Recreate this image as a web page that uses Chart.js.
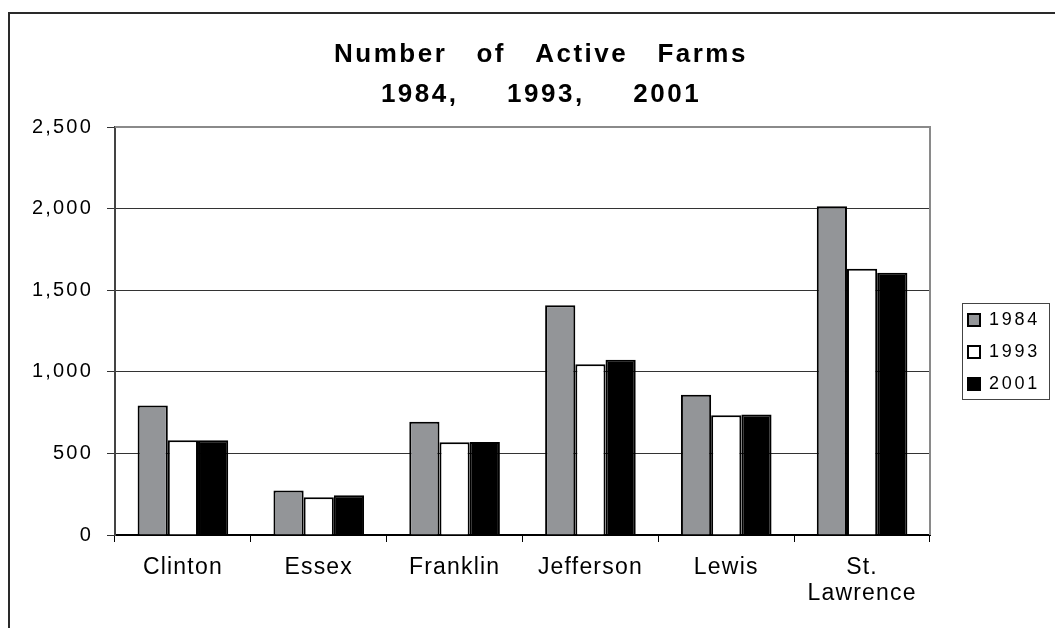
<!DOCTYPE html>
<html><head><meta charset="utf-8">
<script src="https://cdn.jsdelivr.net/npm/chart.js@4"></script>
<style>html,body{margin:0;padding:0;background:#fff;overflow:hidden}#wrap{position:relative;width:1055px;height:628px}</style>
</head><body><div id="wrap"><canvas id="c" width="1055" height="628"></canvas></div>
<script>
const categories = ['Clinton', 'Essex', 'Franklin', 'Jefferson', 'Lewis', ['St.', 'Lawrence']];
const seriesNames = ['1984', '1993', '2001'];
const farms1984 = [794, 273, 694, 1408, 859, 2015];
const farms1993 = [580, 232, 568, 1046, 734, 1632];
const farms2001 = [581, 244, 570, 1074, 739, 1607];
const yTicks = [0, 500, 1000, 1500, 2000, 2500];
const titleLines = ['Number   of   Active   Farms', '1984,     1993,     2001'];

const FONT = '"Liberation Sans", Arial, Helvetica, sans-serif';

function spaced(obj, method, sp) {
  const orig = obj[method];
  obj[method] = function (...a) {
    const ctx = this.ctx;
    const prev = ctx.letterSpacing;
    ctx.letterSpacing = sp;
    try { return orig.apply(this, a); } finally { ctx.letterSpacing = prev; }
  };
}

const framePlugin = {
  id: 'frame',
  afterLayout(chart) {
    const lg = chart.legend;
    lg.left = 954; lg.top = 297; lg.right = 1055; lg.bottom = 520;
    lg.width = lg.right - lg.left; lg.height = lg.bottom - lg.top;
    const t = chart.titleBlock;
    t.left = 141; t.right = 941; t.width = 800;
    if (!chart.$spaced) {
      chart.$spaced = true;
      spaced(t, 'draw', '2.5px');
      spaced(lg, 'draw', '2.7px');
      spaced(chart.scales.x, 'drawLabels', '1.2px');
      spaced(chart.scales.y, 'drawLabels', '2.2px');
    }
  },
  beforeDraw(chart) {
    const ctx = chart.ctx;
    ctx.save();
    ctx.strokeStyle = '#2a2a2a';
    ctx.lineWidth = 2;
    ctx.beginPath();
    ctx.moveTo(9, 640); ctx.lineTo(9, 13); ctx.lineTo(1060, 13);
    ctx.stroke();
    ctx.restore();
  },
  afterDraw(chart) {
    const ctx = chart.ctx;
    const a = chart.chartArea;
    ctx.save();
    ctx.strokeStyle = '#8a8a8a';
    ctx.lineWidth = 2;
    ctx.beginPath();
    ctx.moveTo(a.left, a.top); ctx.lineTo(a.right, a.top); ctx.lineTo(a.right, a.bottom);
    ctx.stroke();
    const lg = chart.legend;
    ctx.strokeStyle = '#444';
    ctx.lineWidth = 1;
    ctx.strokeRect(lg.left + 8.5, lg.top + 6.5, 87, 96);
    ctx.restore();
  }
};

const colors = ['#939598', '#ffffff', '#000000'];
const seriesData = [farms1984, farms1993, farms2001];

new Chart(document.getElementById('c'), {
  type: 'bar',
  data: {
    labels: categories,
    datasets: seriesNames.map((n, i) => ({
      label: n,
      data: seriesData[i],
      backgroundColor: colors[i],
      borderColor: '#000',
      borderWidth: 2,
      barPercentage: 1,
      categoryPercentage: 0.667
    }))
  },
  options: {
    responsive: false,
    animation: false,
    devicePixelRatio: 1,
    layout: { padding: { left: 0, right: 125, top: 0, bottom: 0 } },
    plugins: {
      title: {
        display: true,
        text: titleLines,
        color: '#000',
        font: { family: FONT, size: 26, weight: 'bold', lineHeight: 40 / 26 },
        padding: { top: 35, bottom: 12 }
      },
      legend: {
        position: 'chartArea',
        align: 'start',
        labels: {
          color: '#000',
          boxWidth: 12,
          boxHeight: 12,
          padding: 14,
          font: { family: FONT, size: 18 }
        }
      },
      tooltip: { enabled: false }
    },
    scales: {
      x: {
        afterFit(s) { s.height = 93; },
        grid: { display: true, drawOnChartArea: false, drawTicks: true, tickLength: 7, color: '#000', lineWidth: 1 },
        border: { display: true, color: '#000', width: 2 },
        ticks: { color: '#000', padding: 12, maxRotation: 0, autoSkip: false, font: { family: FONT, size: 23, lineHeight: 1.15 } }
      },
      y: {
        min: 0,
        max: 2500,
        afterFit(s) { s.width = 115; },
        afterBuildTicks(s) { s.ticks = yTicks.map(v => ({ value: v })); },
        grid: { color: '#333', lineWidth: 1, drawTicks: true, tickLength: 8, tickColor: '#333' },
        border: { display: true, color: '#444', width: 2 },
        ticks: { color: '#000', padding: 14, font: { family: FONT, size: 20 }, callback: v => Number(v).toLocaleString('en-US') }
      }
    }
  },
  plugins: [framePlugin]
});
</script>
</body></html>
